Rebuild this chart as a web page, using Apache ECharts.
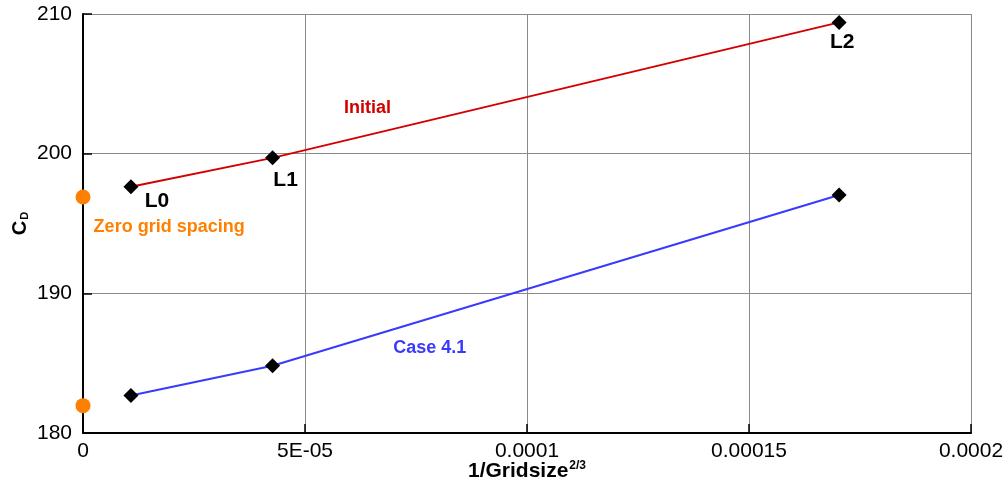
<!DOCTYPE html>
<html>
<head>
<meta charset="utf-8">
<script src="https://cdn.jsdelivr.net/npm/echarts@6/dist/echarts.min.js"></script>
<style>html,body{margin:0;padding:0;background:#fff}#c{width:1008px;height:486px}</style>
</head>
<body>
<div id="c"></div>
<script>
var gridX = [1.08e-5, 4.27e-5, 1.703e-4];
var initialCD = [197.63, 199.7, 209.4];
var case41CD = [182.68, 184.82, 197.04];
var levelNames = ['L0', 'L1', 'L2'];
var zeroX = [0, 0];
var zeroCD = [196.9, 181.96];
var xTickLabels = ['0', '5E-05', '0.0001', '0.00015', '0.0002'];
var yTickLabels = ['180', '190', '200', '210'];
var annotText = ['Initial', 'Case 4.1', 'Zero grid spacing'];
var annotX = [6.41e-5, 7.81e-5, 1.94e-5];
var annotY = [203.3, 186.09, 194.75];

var FONT = '"Liberation Sans", Arial, sans-serif';
var annotColors = ['#d40000', '#3a3aff', '#ff8000'];
var labelOffsets = [[26, 14], [13, 22], [3, 20]];

var chart = echarts.init(document.getElementById('c'), null, {renderer: 'canvas'});
var option = {
  animation: false,
  backgroundColor: '#fff',
  grid: {left: 83, right: 37, top: 14, bottom: 53, containLabel: false, outerBoundsMode: 'none'},
  xAxis: {
    type: 'value', min: 0, max: 0.0002, interval: 0.00005,
    axisLine: {show: true, onZero: false, lineStyle: {color: '#000', width: 2}},
    axisTick: {show: true, inside: true, length: 9, lineStyle: {color: '#000', width: 1.5}},
    splitLine: {show: true, lineStyle: {color: '#8a8a8a', width: 1}},
    axisLabel: {
      color: '#000', fontFamily: FONT, fontSize: 21, margin: 8,
      formatter: function (v, i) { return xTickLabels[Math.round(v / 0.00005)]; }
    },
    name: '{a|1/Gridsize}{b|2/3}',
    nameLocation: 'middle', nameGap: 27, nameMoveOverlap: false,
    nameTextStyle: {
      rich: {
        a: {fontFamily: FONT, fontWeight: 'bold', fontSize: 21, color: '#000'},
        b: {fontFamily: FONT, fontWeight: 'bold', fontSize: 12, color: '#000', padding: [0, 0, 11, 1]}
      }
    }
  },
  yAxis: {
    type: 'value', min: 180, max: 210, interval: 10,
    axisLine: {show: true, onZero: false, lineStyle: {color: '#000', width: 2}},
    axisTick: {show: true, inside: true, length: 9, lineStyle: {color: '#000', width: 1.5}},
    splitLine: {show: true, lineStyle: {color: '#8a8a8a', width: 1}},
    axisLabel: {
      color: '#000', fontFamily: FONT, fontSize: 21, margin: 11,
      formatter: function (v) { return yTickLabels[Math.round((v - 180) / 10)]; }
    },
    name: '{a|C}{b|D}',
    nameLocation: 'middle', nameGap: 53, nameRotate: 90, nameMoveOverlap: false,
    nameTextStyle: {
      rich: {
        a: {fontFamily: FONT, fontWeight: 'bold', fontSize: 20, color: '#000'},
        b: {fontFamily: FONT, fontWeight: 'bold', fontSize: 11, color: '#000', padding: [9, 0, 0, 1]}
      }
    }
  },
  series: [
    {
      name: 'Initial', type: 'line',
      data: gridX.map(function (x, i) {
        return {
          value: [x, initialCD[i]],
          label: {
            show: true, position: 'inside', offset: labelOffsets[i],
            formatter: levelNames[i], color: '#000',
            fontFamily: FONT, fontWeight: 'bold', fontSize: 21
          }
        };
      }),
      lineStyle: {color: '#d40000', width: 2},
      symbol: 'diamond', symbolSize: 15,
      itemStyle: {color: '#000'}, z: 3
    },
    {
      name: 'Case 4.1', type: 'line',
      data: gridX.map(function (x, i) { return [x, case41CD[i]]; }),
      lineStyle: {color: '#3a3aff', width: 2},
      symbol: 'diamond', symbolSize: 15,
      itemStyle: {color: '#000'}, z: 3
    },
    {
      name: 'Zero', type: 'scatter', clip: false,
      data: zeroX.map(function (x, i) { return [x, zeroCD[i]]; }),
      symbol: 'circle', symbolSize: 15,
      itemStyle: {color: '#ff8000', opacity: 1}, z: 4
    },
    {
      name: 'Annotations', type: 'scatter', clip: false,
      symbolSize: 0, silent: true,
      itemStyle: {opacity: 1},
      data: annotText.map(function (t, i) {
        return {
          value: [annotX[i], annotY[i]],
          label: {
            show: true, position: 'inside', formatter: t,
            color: annotColors[i], fontFamily: FONT, fontWeight: 'bold', fontSize: 18
          }
        };
      }),
      z: 5
    }
  ]
};
chart.setOption(option);
</script>
</body>
</html>
